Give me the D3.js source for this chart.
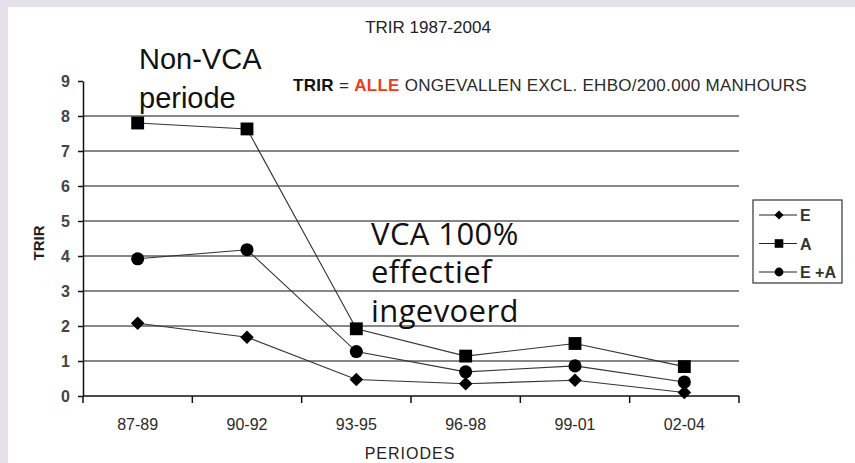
<!DOCTYPE html>
<html>
<head>
<meta charset="utf-8">
<title>TRIR 1987-2004</title>
<script src="https://cdn.jsdelivr.net/npm/d3@7"></script>
<style>
    body { margin: 0; padding: 0; background: #e4e0ec; font-family: "Liberation Sans", Arial, sans-serif; }
    svg { display: block; }
    .grid line { stroke: #111; stroke-width: 1.2; }
    .axis path, .axis line { stroke: #111; stroke-width: 1.5; }
    .axis text { font-family: "Liberation Sans", Arial, sans-serif; fill: #2a2a2a; }
    .series { fill: none; stroke: #333; stroke-width: 1.1; }
</style>
</head>
<body>
<div id="chart"></div>
<script>
    var periodes = ["87-89", "90-92", "93-95", "96-98", "99-01", "02-04"];
    var valuesE  = [2.08, 1.68, 0.47, 0.35, 0.45, 0.1];
    var valuesA  = [7.8, 7.63, 1.92, 1.14, 1.5, 0.84];
    var valuesEA = [3.92, 4.18, 1.27, 0.69, 0.86, 0.4];
    var yTicks   = [0, 1, 2, 3, 4, 5, 6, 7, 8, 9];

    // diamond = square turned 45 degrees
    var series = [
        { name: "E",   values: valuesE,  symbol: d3.symbolSquare, size: 92,  rotate: 45 },
        { name: "A",   values: valuesA,  symbol: d3.symbolSquare, size: 165, rotate: 0 },
        { name: "E+A", values: valuesEA, symbol: d3.symbolCircle, size: 135, rotate: 0 }
    ];

    var W = 855, H = 463;
    var margin = { top: 81, left: 83, right: 116, bottom: 67 };
    var width = W - margin.left - margin.right,
        height = H - margin.top - margin.bottom;

    var svg = d3.select("#chart").append("svg")
        .attr("width", W)
        .attr("height", H);

    // white panel
    svg.append("rect")
        .attr("x", 8).attr("y", 7)
        .attr("width", W - 8).attr("height", H - 7)
        .attr("fill", "#fff");

    var g = svg.append("g")
        .attr("transform", "translate(" + margin.left + "," + margin.top + ")");

    var x = d3.scaleBand().domain(periodes).range([0, width]);
    var y = d3.scaleLinear().domain([0, 9]).range([height, 0]);

    // gridlines
    g.append("g").attr("class", "grid")
        .selectAll("line")
        .data(yTicks.filter(function (d) { return d > 0 && d < 9; }))
        .enter().append("line")
        .attr("x1", 0).attr("x2", width)
        .attr("y1", function (d) { return y(d); })
        .attr("y2", function (d) { return y(d); });

    // y axis
    var yAxis = g.append("g").attr("class", "axis")
        .call(d3.axisLeft(y).tickValues(yTicks).tickSize(5).tickSizeOuter(0).tickPadding(8));
    yAxis.selectAll("text").style("font-size", "16px").style("font-weight", "bold").style("fill", "#444");

    // x axis with ticks at band edges
    var xAxis = g.append("g").attr("class", "axis")
        .attr("transform", "translate(0," + height + ")");
    xAxis.append("line").attr("x1", 0).attr("x2", width);
    var edges = periodes.map(function (d) { return x(d); }).concat([width]);
    xAxis.selectAll(".edge").data(edges).enter().append("line")
        .attr("class", "edge")
        .attr("x1", function (d) { return d; }).attr("x2", function (d) { return d; })
        .attr("y1", 0).attr("y2", 7);
    xAxis.selectAll(".lbl").data(periodes).enter().append("text")
        .attr("class", "lbl")
        .attr("x", function (d) { return x(d) + x.bandwidth() / 2; })
        .attr("y", 34)
        .attr("text-anchor", "middle")
        .style("font-size", "16px")
        .text(function (d) { return d; });

    // series
    var line = d3.line()
        .x(function (d, i) { return x(periodes[i]) + x.bandwidth() / 2; })
        .y(function (d) { return y(d); });

    series.forEach(function (s) {
        g.append("path").attr("class", "series").attr("d", line(s.values));
        g.selectAll(".m-" + s.name).data(s.values).enter().append("path")
            .attr("d", d3.symbol().type(s.symbol).size(s.size))
            .attr("transform", function (d, i) {
                return "translate(" + (x(periodes[i]) + x.bandwidth() / 2) + "," + y(d) + ") rotate(" + s.rotate + ")";
            })
            .attr("fill", "#000");
    });

    // titles
    svg.append("text")
        .attr("x", 428).attr("y", 33)
        .attr("text-anchor", "middle")
        .style("font-size", "17px")
        .style("fill", "#222")
        .text("TRIR 1987-2004");

    var formula = svg.append("text")
        .attr("x", 293).attr("y", 91)
        .style("font-size", "17px")
        .style("letter-spacing", "0.3px")
        .style("fill", "#2a2a2a");
    formula.append("tspan").style("font-weight", "bold").style("fill", "#111").text("TRIR");
    formula.append("tspan").text(" = ");
    formula.append("tspan").style("font-weight", "bold").style("fill", "#f03a1c").text("ALLE");
    formula.append("tspan").text(" ONGEVALLEN EXCL. EHBO/200.000 MANHOURS");

    svg.append("text")
        .attr("transform", "translate(44,243) rotate(-90)")
        .attr("text-anchor", "middle")
        .style("font-size", "15px")
        .style("font-weight", "bold")
        .style("fill", "#222")
        .text("TRIR");

    svg.append("text")
        .attr("x", 410).attr("y", 459)
        .attr("text-anchor", "middle")
        .style("font-size", "16px")
        .style("letter-spacing", "1px")
        .style("fill", "#222")
        .text("PERIODES");

    // annotations
    var note1 = svg.append("text")
        .style("font-size", "29px")
        .style("fill", "#111");
    note1.append("tspan").attr("x", 139).attr("y", 69).text("Non-VCA");
    note1.append("tspan").attr("x", 139).attr("y", 108).text("periode");

    var note2 = svg.append("text")
        .style("font-family", "'Open Sans', sans-serif")
        .style("font-size", "31px")
        .style("letter-spacing", "0.4px")
        .style("fill", "#111");
    note2.append("tspan").attr("x", 371).attr("y", 245).text("VCA 100%");
    note2.append("tspan").attr("x", 371).attr("y", 283).text("effectief");
    note2.append("tspan").attr("x", 371).attr("y", 322).text("ingevoerd");

    // legend
    var legend = svg.append("g").attr("transform", "translate(753,200)");
    legend.append("rect")
        .attr("width", 89).attr("height", 83)
        .attr("fill", "#fff").attr("stroke", "#333").attr("stroke-width", 1.2);
    var items = legend.selectAll(".item").data(series).enter().append("g")
        .attr("transform", function (d, i) { return "translate(0," + (15 + i * 28.5) + ")"; });
    items.append("line")
        .attr("x1", 6).attr("x2", 44)
        .attr("stroke", "#222").attr("stroke-width", 1.2);
    items.append("path")
        .attr("d", function (d) { return d3.symbol().type(d.symbol).size(d.size * 0.45)(); })
        .attr("transform", function (d) { return "translate(26,0) rotate(" + d.rotate + ")"; })
        .attr("fill", "#000");
    items.append("text")
        .attr("x", 47).attr("y", 6)
        .style("font-size", "16px")
        .style("font-weight", "bold")
        .style("fill", "#333")
        .text(function (d) { return d.name === "E+A" ? "E +A" : d.name; });
</script>
</body>
</html>
